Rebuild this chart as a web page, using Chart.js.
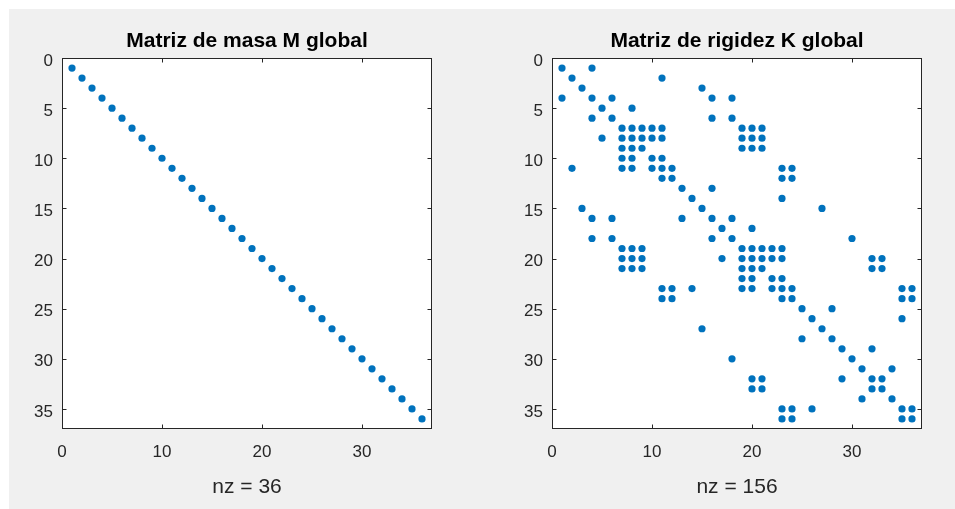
<!DOCTYPE html>
<html>
<head>
<meta charset="utf-8">
<script src="https://cdn.jsdelivr.net/npm/chart.js@4.4.1/dist/chart.umd.min.js"></script>
<style>
  html, body { margin:0; padding:0; background:#ffffff; overflow:hidden; }
  #fig { position:absolute; left:9px; top:9px; right:0; bottom:0; background:#f0f0f0; }
  canvas { position:absolute; top:0; }
  #c1 { left:0; }
  #c2 { left:490px; }
</style>
</head>
<body>
<div id="fig"></div>
<canvas id="c1" width="480" height="509"></canvas>
<canvas id="c2" width="465" height="509"></canvas>
<script>
// ---- data ----
const titleM = 'Matriz de masa M global';
const titleK = 'Matriz de rigidez K global';
const nzM = 'nz = 36';
const nzK = 'nz = 156';
const xTicks = [0, 10, 20, 30];
const yTicks = [0, 5, 10, 15, 20, 25, 30, 35];
const axisMax = 37;

// Mass matrix: nonzeros on the diagonal (row = col)
const mDiag = [1,2,3,4,5,6,7,8,9,10,11,12,13,14,15,16,17,18,19,20,21,22,23,24,25,26,27,28,29,30,31,32,33,34,35,36];

// Stiffness matrix: nonzero column indices for each row 1..36
const kRowCols = [
  [1,4],                         // 1
  [2,11],                        // 2
  [3,15],                        // 3
  [1,4,6,16,18],                 // 4
  [5,8],                         // 5
  [4,6,16,18],                   // 6
  [7,8,9,10,11,19,20,21],        // 7
  [5,7,8,9,10,11,19,20,21],      // 8
  [7,8,9,19,20,21],              // 9
  [7,8,10,11],                   // 10
  [2,7,8,10,11,12,23,24],        // 11
  [11,12,23,24],                 // 12
  [13,16],                       // 13
  [14,23],                       // 14
  [3,15,27],                     // 15
  [4,6,13,16,18],                // 16
  [17,20],                       // 17
  [4,6,16,18,30],                // 18
  [7,8,9,19,20,21,22,23],        // 19
  [7,8,9,17,19,20,21,22,23,32,33], // 20
  [7,8,9,19,20,21,32,33],        // 21
  [19,20,22,23],                 // 22
  [11,12,14,19,20,22,23,24,35,36], // 23
  [11,12,23,24,35,36],           // 24
  [25,28],                       // 25
  [26,35],                       // 26
  [15,27],                       // 27
  [25,28],                       // 28
  [29,32],                       // 29
  [18,30],                       // 30
  [31,34],                       // 31
  [20,21,29,32,33],              // 32
  [20,21,32,33],                 // 33
  [31,34],                       // 34
  [23,24,26,35,36],              // 35
  [23,24,35,36]                  // 36
];

// ---- build ----
const FONT = "'Liberation Sans', Arial, Helvetica, sans-serif";
const DOT = '#0072BD';
const AX = '#262626';

const mPoints = mDiag.map(i => ({ x: i, y: i }));
const kPoints = [];
kRowCols.forEach((cols, r) => cols.forEach(c => kPoints.push({ x: c, y: r + 1 })));

const boxPlugin = {
  id: 'matlabBox',
  beforeDraw(chart) {
    const { ctx, chartArea: a } = chart;
    ctx.save();
    ctx.fillStyle = '#ffffff';
    ctx.fillRect(a.left, a.top, a.right - a.left, a.bottom - a.top);
    ctx.restore();
  },
  afterDraw(chart) {
    const { ctx, chartArea: a, scales } = chart;
    const L = Math.round(a.left) + 0.5, R = Math.round(a.right) - 0.5;
    const T = Math.round(a.top) + 0.5, B = Math.round(a.bottom) - 0.5;
    ctx.save();
    ctx.strokeStyle = AX;
    ctx.lineWidth = 1;
    ctx.strokeRect(L, T, R - L, B - T);
    const tl = 4;
    ctx.beginPath();
    scales.x.ticks.forEach(t => {
      if (t.value <= 0) return;
      const px = Math.round(scales.x.getPixelForValue(t.value)) + 0.5;
      ctx.moveTo(px, B); ctx.lineTo(px, B - tl);
      ctx.moveTo(px, T); ctx.lineTo(px, T + tl);
    });
    scales.y.ticks.forEach(t => {
      if (t.value <= 0) return;
      const py = Math.round(scales.y.getPixelForValue(t.value)) + 0.5;
      ctx.moveTo(L, py); ctx.lineTo(L + tl, py);
      ctx.moveTo(R, py); ctx.lineTo(R - tl, py);
    });
    ctx.stroke();
    ctx.restore();
  }
};

function makeChart(id, title, points, nz, padRight) {
  return new Chart(document.getElementById(id), {
    type: 'scatter',
    data: {
      datasets: [{
        data: points,
        backgroundColor: DOT,
        borderWidth: 0,
        pointRadius: 3.6,
        pointHoverRadius: 3.6,
        showLine: false
      }]
    },
    options: {
      responsive: false,
      animation: false,
      events: [],
      layout: { padding: { left: 0, right: padRight, top: 0, bottom: 0 } },
      plugins: {
        legend: { display: false },
        tooltip: { enabled: false },
        title: {
          display: true,
          text: title,
          fullSize: false,
          color: '#000000',
          font: { family: FONT, size: 21, weight: 'bold', lineHeight: 1.2 },
          padding: { top: 28.4, bottom: 4.4 }
        }
      },
      scales: {
        x: {
          type: 'linear',
          position: 'bottom',
          min: 0,
          max: axisMax,
          afterBuildTicks: s => { s.ticks = xTicks.map(v => ({ value: v })); },
          afterFit: s => { s.height = 80; },
          grid: { display: false, drawTicks: false },
          border: { display: false },
          ticks: { color: AX, font: { family: FONT, size: 17 }, padding: 13, maxRotation: 0, autoSkip: false },
          title: {
            display: true,
            text: nz,
            color: AX,
            font: { family: FONT, size: 21, lineHeight: 1.2 },
            padding: { top: 0, bottom: 8.9 }
          }
        },
        y: {
          type: 'linear',
          position: 'left',
          min: 0,
          max: axisMax,
          reverse: true,
          afterBuildTicks: s => { s.ticks = yTicks.map(v => ({ value: v })); },
          afterFit: s => { s.width = 62; },
          grid: { display: false, drawTicks: false },
          border: { display: false },
          ticks: { color: AX, font: { family: FONT, size: 17 }, padding: 9, labelOffset: 3, autoSkip: false }
        }
      }
    },
    plugins: [boxPlugin]
  });
}

makeChart('c1', titleM, mPoints, nzM, 48);
makeChart('c2', titleK, kPoints, nzK, 33);
</script>
</body>
</html>
